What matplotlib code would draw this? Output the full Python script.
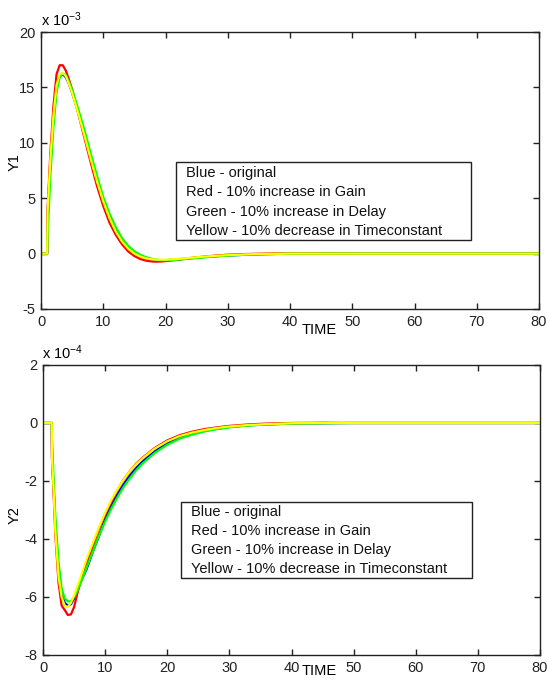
import numpy as np
import matplotlib
matplotlib.use("Agg")
import matplotlib.pyplot as plt
from matplotlib.patches import Rectangle

plt.rcParams['font.family'] = ['Liberation Sans', 'DejaVu Sans']
plt.rcParams['axes.unicode_minus'] = False
plt.rcParams['mathtext.fontset'] = 'custom'
plt.rcParams['mathtext.rm'] = 'Liberation Sans'
plt.rcParams['mathtext.it'] = 'Liberation Sans'
plt.rcParams['mathtext.bf'] = 'Liberation Sans'

# ---- Y1 response (units of 1e-3) ----
t1 = [0, 1.0, 1.05, 1.5, 2.0, 2.5, 3.0, 3.5, 4.0, 4.5,
      5, 6, 7, 8, 9, 10, 11, 12, 13, 14,
      15, 16, 17, 18, 19, 20, 22, 24, 26, 28,
      30, 33, 36, 40, 50, 80]
y1_blue = [0, 0, 3.6, 8.2, 12.2, 15.0, 16.0, 16.2, 15.9, 15.3,
           14.5, 12.7, 10.8, 8.7, 6.6, 4.7, 3.3, 2.1, 1.2, 0.5,
           0.05, -0.25, -0.45, -0.55, -0.6, -0.6, -0.52, -0.42, -0.32, -0.24,
           -0.17, -0.1, -0.05, -0.01, 0, 0]
y1_red = [0, 0, 3.9, 9.0, 13.3, 16.2, 17.0, 17.0, 16.5, 15.7,
          14.8, 12.6, 10.4, 8.2, 6.1, 4.3, 2.8, 1.7, 0.85, 0.2,
          -0.22, -0.5, -0.65, -0.72, -0.72, -0.68, -0.55, -0.4, -0.28, -0.18,
          -0.1, -0.04, 0.0, 0.02, 0, 0]
y1_green = [0, 0, 1.5, 7.0, 11.5, 14.6, 15.9, 16.3, 16.1, 15.5,
            14.8, 13.0, 11.1, 9.0, 7.0, 5.1, 3.6, 2.4, 1.4, 0.7,
            0.2, -0.12, -0.35, -0.5, -0.58, -0.6, -0.55, -0.45, -0.35, -0.26,
            -0.18, -0.1, -0.05, -0.01, 0, 0]
y1_yellow = [0, 0, 3.8, 8.5, 12.5, 15.2, 16.2, 16.3, 16.0, 15.3,
             14.5, 12.6, 10.6, 8.5, 6.5, 4.7, 3.2, 2.0, 1.1, 0.45,
             0.0, -0.28, -0.45, -0.53, -0.55, -0.55, -0.48, -0.38, -0.28, -0.2,
             -0.14, -0.07, -0.03, 0, 0, 0]

# ---- Y2 response (units of 1e-4) ----
t2 = [0, 1.4, 1.45, 1.7, 2.0, 2.5, 3.0, 3.5, 4.0, 4.5,
      5, 5.5, 6, 7, 8, 9, 10, 11, 12, 13,
      14, 15, 16, 18, 20, 22, 24, 26, 28, 30,
      33, 36, 40, 45, 50, 80]
y2_blue = [0, 0, -1.2, -2.2, -3.6, -5.1, -5.85, -6.2, -6.3, -6.25,
           -6.05, -5.8, -5.5, -5.05, -4.45, -3.9, -3.3, -2.85, -2.45, -2.1,
           -1.8, -1.55, -1.33, -0.97, -0.7, -0.5, -0.37, -0.27, -0.2, -0.14,
           -0.08, -0.05, -0.02, -0.01, 0, 0]
y2_red = [0, 0, -1.3, -2.4, -3.9, -5.5, -6.3, -6.45, -6.62, -6.6,
          -6.35, -5.9, -5.5, -4.85, -4.25, -3.65, -3.15, -2.7, -2.3, -1.95,
          -1.65, -1.4, -1.2, -0.86, -0.6, -0.42, -0.3, -0.21, -0.15, -0.1,
          -0.05, -0.02, 0, 0.01, 0, 0]
y2_green = [0, 0, -0.5, -1.9, -3.3, -4.8, -5.7, -6.05, -6.15, -6.15,
            -6.0, -5.8, -5.55, -5.0, -4.45, -3.9, -3.4, -2.95, -2.55, -2.2,
            -1.9, -1.63, -1.4, -1.03, -0.75, -0.54, -0.4, -0.29, -0.21, -0.15,
            -0.09, -0.05, -0.02, -0.01, 0, 0]
y2_yellow = [0, 0, -1.25, -2.3, -3.8, -5.3, -6.0, -6.3, -6.35, -6.2,
             -5.95, -5.65, -5.35, -4.7, -4.15, -3.6, -3.1, -2.65, -2.28, -1.95,
             -1.65, -1.42, -1.22, -0.88, -0.63, -0.45, -0.33, -0.24, -0.17, -0.12,
             -0.07, -0.04, -0.01, 0, 0, 0]

legend_lines = ["Blue - original",
                "Red - 10% increase in Gain",
                "Green - 10% increase in Delay",
                "Yellow - 10% decrease in Timeconstant"]

colors = ['#0000ff', '#ff0000', '#00ff00', '#ffff00']

W, H = 547, 680
fig = plt.figure(figsize=(W / 100, H / 100), dpi=100)


def px_axes(left, top, right, bottom):
    return fig.add_axes([left / W, 1 - bottom / H, (right - left) / W, (bottom - top) / H])


def style(ax, xlim, ylim, yticks):
    ax.set_xlim(*xlim)
    ax.set_ylim(*ylim)
    ax.set_xticks(np.arange(0, 81, 10))
    ax.set_yticks(yticks)
    ax.tick_params(direction='in', length=4, width=1, top=True, right=True,
                   labelsize=10.5, pad=4, colors='#222222')
    for s in ax.spines.values():
        s.set_color('#222222')
        s.set_linewidth(1)


def legend_box(left, top, right, bottom):
    fig.patches.append(Rectangle((left / W, 1 - bottom / H), (right - left) / W,
                                 (bottom - top) / H, transform=fig.transFigure,
                                 facecolor='white', edgecolor='#222222', lw=1, zorder=5))
    step = (bottom - top) / 4
    for i, s in enumerate(legend_lines):
        fig.text((left + 10) / W, 1 - (top + step * (i + 0.55)) / H, s,
                 fontsize=10.5, va='center', ha='left', color='#111111', zorder=6)


# top axes
ax1 = px_axes(41, 32, 539, 309)
for y, c in zip([y1_blue, y1_red, y1_green, y1_yellow], colors):
    ax1.plot(t1, y, color=c, lw=1.6)
style(ax1, (0, 80), (-5, 20), np.arange(-5, 21, 5))
fig.text(41 / W, 1 - 20 / H, r'x 10$^{-3}$', fontsize=10.5, va='center', ha='left')
fig.text(319 / W, 1 - 330 / H, 'TIME', fontsize=10.5, va='center', ha='center')
fig.text(15 / W, 1 - 162 / H, 'Y1', fontsize=10.5, va='center', ha='center', rotation=90)
legend_box(176, 162, 471, 240)

# bottom axes
ax2 = px_axes(43, 365, 540, 655)
for y, c in zip([y2_blue, y2_red, y2_green, y2_yellow], colors):
    ax2.plot(t2, y, color=c, lw=1.6)
style(ax2, (0, 80), (-8, 2), np.arange(-8, 3, 2))
fig.text(42 / W, 1 - 353 / H, r'x 10$^{-4}$', fontsize=10.5, va='center', ha='left')
fig.text(319 / W, 1 - 671 / H, 'TIME', fontsize=10.5, va='center', ha='center')
fig.text(15 / W, 1 - 515 / H, 'Y2', fontsize=10.5, va='center', ha='center', rotation=90)
legend_box(181, 502, 472, 578)

fig.savefig('out.png', dpi=100)
